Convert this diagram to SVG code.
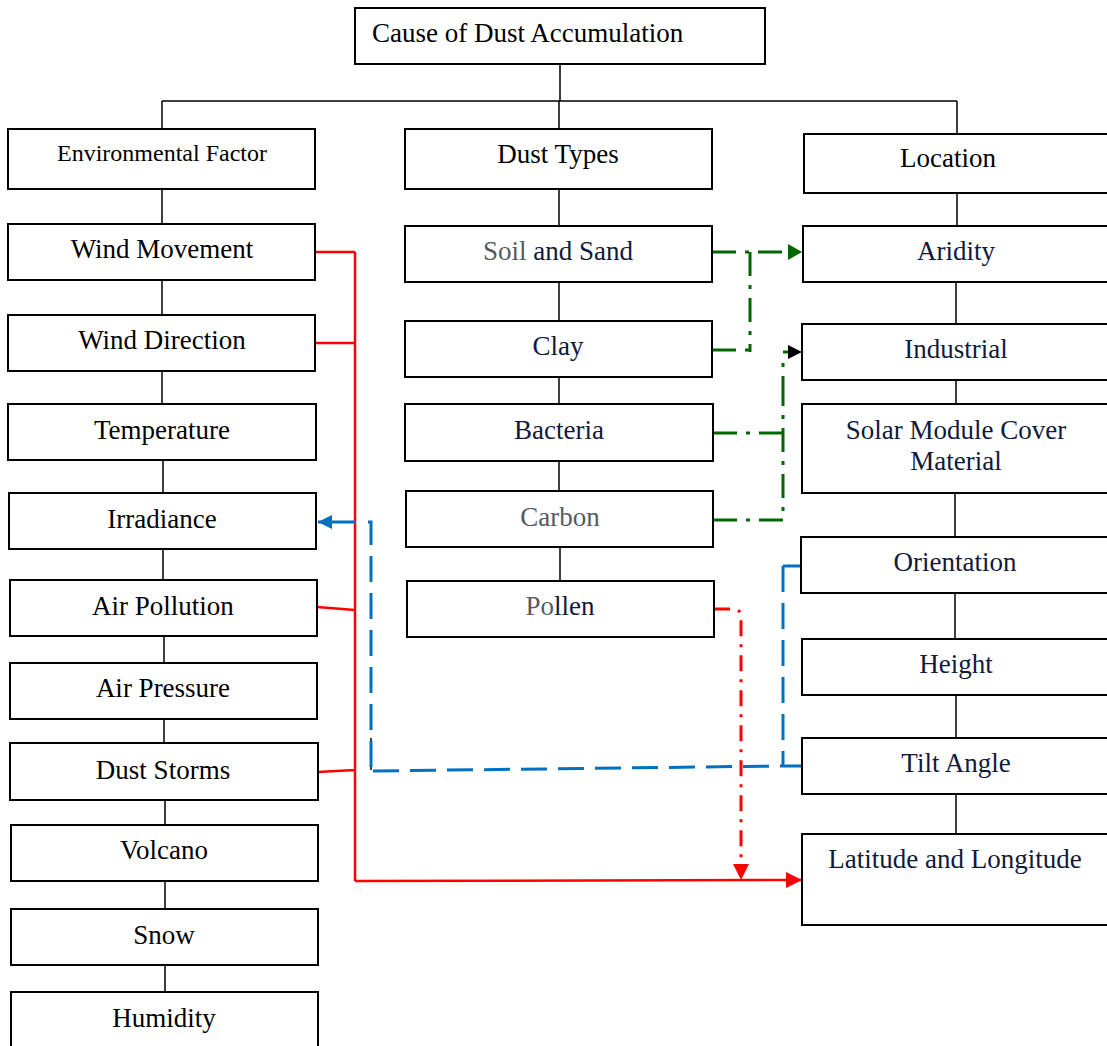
<svg xmlns="http://www.w3.org/2000/svg" width="1107" height="1046" viewBox="0 0 1107 1046">
<style>
.box{fill:#fff;stroke:#000;stroke-width:2}
.t{font-family:"Liberation Serif","Times New Roman",serif;font-size:27px;fill:#000;text-anchor:middle}
.n{fill:#101a3c}
.g{fill:#555a60}
.tree{stroke:#000;stroke-width:1.5;fill:none}
.red{stroke:#ff0000;stroke-width:2.5;fill:none}
.redd{stroke:#ff0000;stroke-width:3;fill:none;stroke-dasharray:16 8 3 8}
.blue{stroke:#0070c0;stroke-width:3;fill:none;stroke-dasharray:26 11}
.blues{stroke:#0070c0;stroke-width:3;fill:none}
.green{stroke:#006600;stroke-width:3;fill:none;stroke-dasharray:24 9 4 9}
</style>
<defs>
<marker id="aRed" markerUnits="userSpaceOnUse" markerWidth="18" markerHeight="18" refX="16" refY="8" orient="auto"><path d="M0,0 L16,8 L0,16 Z" fill="#ff0000"/></marker>
<marker id="aBlue" markerUnits="userSpaceOnUse" markerWidth="16" markerHeight="16" refX="14" refY="7" orient="auto"><path d="M0,0 L14,7 L0,14 Z" fill="#0070c0"/></marker>
<marker id="aGreen" markerUnits="userSpaceOnUse" markerWidth="16" markerHeight="16" refX="14" refY="8" orient="auto"><path d="M0,0 L14,8 L0,16 Z" fill="#006600"/></marker>
</defs>
<rect width="1107" height="1046" fill="#fff"/>

<g id="connectors">
<path class="tree" d="M560,64 V101 M162,101 H957 M162,101 V129 M559,101 V129 M957,101 V134"/>
<path class="tree" d="M162,189 V224 M162,280 V315 M162,371 V404 M163,460 V493 M163,549 V580 M164,636 V663 M164,719 V743 M165,800 V825 M165,881 V909 M165,965 V992"/>
<path class="tree" d="M559,189 V226 M559,282 V321 M559,377 V404 M559,461 V491 M560,547 V581"/>
<path class="tree" d="M957,193 V226 M956,282 V324 M956,380 V404 M955,493 V537 M955,593 V639 M956,695 V738 M956,794 V834"/>
<path class="tree" d="M371,738 V770"/>
<path class="red" d="M316,252 H355 M316,343 H355 M317,607 L355,610 M318,772 L355,770 M355,252 V881"/>
<path class="red" d="M355,881 L802,880" marker-end="url(#aRed)"/>
<path class="redd" d="M714,609 H733 Q741,609 741,617 V864"/>
<path d="M733,864 L749,864 L741,880 Z" fill="#ff0000"/>
<path class="blues" d="M355,522 H318" marker-end="url(#aBlue)"/>
<path class="blue" d="M368,522 H371 V770"/>
<path class="blue" d="M373,771 L783,766"/>
<path class="blues" d="M783,766 H802 M783,756 V766 M802,566 H783"/>
<path class="blue" d="M783,566 V756"/>
<path class="green" d="M712,252 H802" marker-end="url(#aGreen)"/>
<path class="green" d="M750,252 V352 M712,350 H750"/>
<path class="green" d="M713,433 H783 M713,520 H783 V400 M783,400 V355"/>
<path d="M783,352 H788" stroke="#006600" stroke-width="3"/>
<path d="M788,345 L802,352 L788,359 Z" fill="#000"/>
</g>

<g id="root"><rect class="box" x="355" y="8" width="410" height="56"/><text class="t" x="372" y="42" style="text-anchor:start">Cause of Dust Accumulation</text></g>

<g id="env"><rect class="box" x="8" y="129" width="307" height="60"/><text class="t" x="162" y="161" style="font-size:24px">Environmental Factor</text></g>
<g id="wind-movement"><rect class="box" x="8" y="224" width="307" height="56"/><text class="t" x="162" y="258">Wind Movement</text></g>
<g id="wind-direction"><rect class="box" x="8" y="315" width="307" height="56"/><text class="t" x="162" y="349">Wind Direction</text></g>
<g id="temperature"><rect class="box" x="8" y="404" width="308" height="56"/><text class="t" x="162" y="439">Temperature</text></g>
<g id="irradiance"><rect class="box" x="9" y="493" width="307" height="56"/><text class="t" x="162" y="528">Irradiance</text></g>
<g id="air-pollution"><rect class="box" x="10" y="580" width="307" height="56"/><text class="t" x="163" y="615">Air Pollution</text></g>
<g id="air-pressure"><rect class="box" x="10" y="663" width="307" height="56"/><text class="t" x="163" y="697">Air Pressure</text></g>
<g id="dust-storms"><rect class="box" x="10" y="743" width="308" height="57"/><text class="t" x="163" y="779">Dust Storms</text></g>
<g id="volcano"><rect class="box" x="11" y="825" width="307" height="56"/><text class="t" x="164" y="859">Volcano</text></g>
<g id="snow"><rect class="box" x="11" y="909" width="307" height="56"/><text class="t" x="164" y="944">Snow</text></g>
<g id="humidity"><rect class="box" x="11" y="992" width="307" height="60"/><text class="t" x="164" y="1027">Humidity</text></g>

<g id="dust-types"><rect class="box" x="405" y="129" width="307" height="60"/><text class="t" x="558" y="163">Dust Types</text></g>
<g id="soil-sand"><rect class="box" x="405" y="226" width="307" height="56"/><text class="t" x="558" y="260"><tspan class="g">Soil</tspan><tspan class="n"> and Sand</tspan></text></g>
<g id="clay"><rect class="box" x="405" y="321" width="307" height="56"/><text class="t n" x="558" y="355">Clay</text></g>
<g id="bacteria"><rect class="box" x="405" y="404" width="308" height="57"/><text class="t n" x="559" y="439">Bacteria</text></g>
<g id="carbon"><rect class="box" x="406" y="491" width="307" height="56"/><text class="t g" x="560" y="526">Carbon</text></g>
<g id="pollen"><rect class="box" x="407" y="581" width="307" height="56"/><text class="t" x="560" y="615"><tspan class="g">Po</tspan><tspan class="n">llen</tspan></text></g>

<g id="location"><rect class="box" x="804" y="134" width="310" height="59"/><text class="t" x="948" y="167">Location</text></g>
<g id="aridity"><rect class="box" x="803" y="226" width="310" height="56"/><text class="t n" x="956" y="260">Aridity</text></g>
<g id="industrial"><rect class="box" x="802" y="324" width="310" height="56"/><text class="t n" x="956" y="358">Industrial</text></g>
<g id="solar-module"><rect class="box" x="802" y="404" width="310" height="89"/><text class="t n" x="956" y="439">Solar Module Cover</text><text class="t n" x="956" y="470">Material</text></g>
<g id="orientation"><rect class="box" x="801" y="537" width="310" height="56"/><text class="t n" x="955" y="571">Orientation</text></g>
<g id="height"><rect class="box" x="802" y="639" width="310" height="56"/><text class="t n" x="956" y="673">Height</text></g>
<g id="tilt-angle"><rect class="box" x="802" y="738" width="310" height="56"/><text class="t n" x="956" y="772">Tilt Angle</text></g>
<g id="lat-long"><rect class="box" x="802" y="834" width="310" height="91"/><text class="t n" x="955" y="868">Latitude and Longitude</text></g>
</svg>
